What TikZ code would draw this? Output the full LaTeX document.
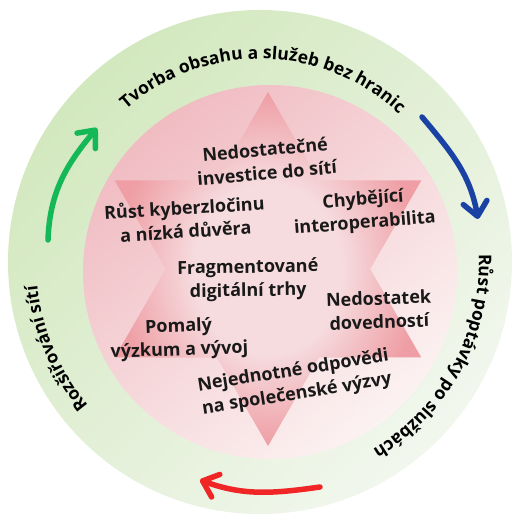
\documentclass[tikz,border=0pt]{standalone}
\usepackage{fontspec}
\setmainfont{Open Sans}
\usepackage{xcolor}
\usetikzlibrary{arrows.meta,decorations.text,shadings}
\definecolor{ringtop}{RGB}{210,232,190}
\definecolor{ringbot}{RGB}{242,247,238}
\definecolor{disktop}{RGB}{240,188,194}
\definecolor{diskbot}{RGB}{252,242,242}
\definecolor{starin}{RGB}{246,220,223}
\definecolor{starout}{RGB}{238,158,164}
\definecolor{cycgreen}{RGB}{20,184,86}
\definecolor{cycblue}{RGB}{26,66,164}
\definecolor{cycred}{RGB}{240,38,38}
\pgfdeclareradialshading{starglow}{\pgfpoint{0bp}{0bp}}{color(0bp)=(starin); color(12bp)=(starin); color(25bp)=(starout); color(50bp)=(starout)}
\newcommand{\ringtext}{\fontsize{17.5}{17.5}\selectfont\bfseries}

\begin{document}
\begin{tikzpicture}[
    x=1pt, y=1pt,
    ring/.style={top color=ringtop, bottom color=ringbot, shading angle=45},
    disk/.style={top color=disktop, bottom color=diskbot, shading angle=40},
    hexstar/.style={shading=starglow},
    issue/.style={align=center, inner sep=0, text=black!90,
        font=\fontsize{18}{23.5}\selectfont\bfseries},
    cyc/.style={line width=5.5pt, line cap=round,
        -{Straight Barb[length=14pt, width=24pt, round]}},
    ringlabel/.style={decorate, decoration={text along path, text align=center, text={#1}}}
]
\useasboundingbox (0,0) rectangle (515,521);
\coordinate (O) at (260,259);
\coordinate (P) at (270,249);
\coordinate (S) at (268,252);

\path[ring] (O) circle[radius=252];
\path[disk] (P) circle[radius=187];
\begin{scope}[shift={(S)}]
\path[hexstar] (90:177) \foreach \k in {0,...,5} { -- (60-60*\k:102.2) -- (30-60*\k:177) } -- cycle;
\end{scope}

\node[issue, rotate=5] (invest) at (266,360) {Nedostatečné\\investice do sítí};
\node[issue, rotate=3.5] (cyber) at (185,302) {Růst kyberzločinu\\a nízká důvěra};
\node[issue, rotate=4.5] (interop) at (364,309) {Chybějící\\interoperabilita};
\node[issue, rotate=1] (market) at (248,241) {Fragmentované\\digitální trhy};
\node[issue, rotate=2] (skills) at (379,211) {Nedostatek\\dovedností};
\node[issue, rotate=2] (research) at (179,182) {Pomalý\\výzkum a vývoj};
\node[issue, rotate=9] (society) at (295,138) {Nejednotné odpovědi\\na společenské výzvy};

\path[ringlabel={|\ringtext|Tvorba obsahu a služeb bez hranic}] (O) ++(150:203) arc[start angle=150, end angle=28, radius=203];
\path[ringlabel={|\ringtext|Růst poptávky po službách}] (O) ++(30:219) arc[start angle=30, end angle=-87, radius=219];
\path[ringlabel={|\ringtext|Rozšiřování sítí}] (O) ++(240:224) arc[start angle=240, end angle=166, radius=224];

\coordinate (gtail) at (48,281);
\coordinate (ghead) at (97,393);
\coordinate (btail) at (422,404);
\coordinate (bhead) at (478,302);
\coordinate (rtail) at (320,34);
\coordinate (rhead) at (200,41);
\draw[cyc, cycgreen] (gtail) to[out=88, in=230] (ghead);
\draw[cyc, cycblue] (btail) to[out=-50, in=100] (bhead);
\draw[cyc, cycred] (rtail) to[out=188, in=-20] (rhead);

\end{tikzpicture}
\end{document}
